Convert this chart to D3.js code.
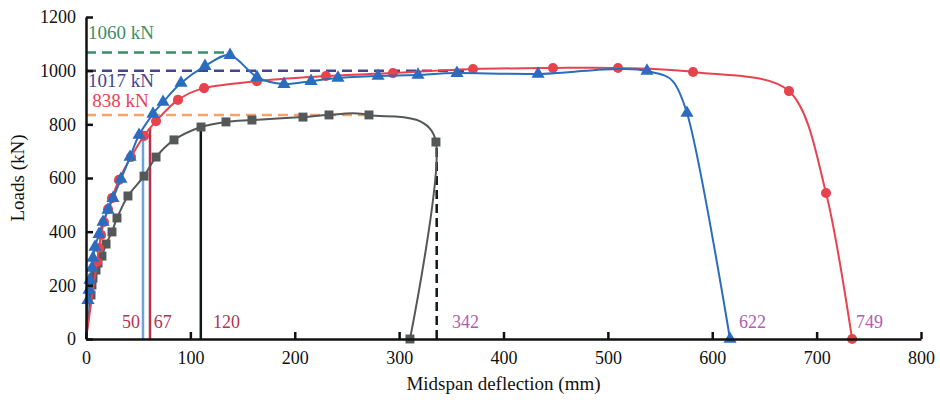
<!DOCTYPE html>
<html>
<head>
<meta charset="utf-8">
<script src="https://cdn.jsdelivr.net/npm/d3@7"></script>
<style>
  body { margin: 0; background: #fff; }
  text { font-family: "Liberation Serif", "DejaVu Serif", serif; }
</style>
</head>
<body>
<svg id="chart"></svg>
<script>
// ---------------- data ----------------
const grayPts = [[0,0],[4.8,164],[5.7,201],[6.7,227],[9.6,257],[11.5,283],[15.3,309],[19.2,354],
  [24.9,399],[29.7,451],[40.2,533],[55.6,607],[67.1,678],[84.3,742],[110.2,790],[134.1,809],
  [159,816],[207.9,827],[232.8,835],[271.1,835],[335.3,734],[310.4,0]];
const redPts = [[0,0],[10.5,287],[12.5,339],[14.4,388],[17.2,436],[21.1,484],[24.9,525],[31.6,593],
  [43.1,678],[55.6,757],[67.1,812],[88.1,891],[113.1,935],[163.8,961],[229.9,980],[294.1,991],
  [370.8,1006],[447.4,1010],[509.7,1010],[581.6,995],[673.5,924],[709,544],[734,0]];
const bluePts = [[0,0],[1.9,145],[2.9,183],[3.8,220],[5.7,265],[6.7,302],[8.6,343],[12.5,391],
  [16.3,436],[21.1,481],[25.9,525],[33.5,596],[42.2,678],[50.8,760],[64.2,839],[73.8,883],
  [91,954],[114,1017],[138,1058],[163.8,976],[189.7,950],[215.6,961],[241.4,973],[279.8,980],
  [318.1,984],[355.4,991],[433.1,988],[537.5,999],[575.8,842],[617,0]];

// horizontal dashed reference loads and where they stop
const refLoads = [1068, 1000, 835];
const refLoadEnds = [138, 365, 272];
// vertical reference deflections and their tops
const refDefl = [54.6, 61.3, 110, 336];
const refDeflTops = [760, 786, 790, 734];

const loadLabels = ["1060 kN", "1017 kN", "838 kN"];
const loadLabelPos = [[2, 1117], [2, 939], [6, 865]];
const deflLabels = ["50", "67", "120", "342", "622", "749"];
const deflLabelX = [34.5, 65, 121.7, 350.6, 625.6, 737.7];

const xTicks = [0, 100, 200, 300, 400, 500, 600, 700, 800];
const yTicks = [0, 200, 400, 600, 800, 1000, 1200];

// ---------------- layout ----------------
const W = 940, H = 400;
const margin = {top: 17, right: 19, bottom: 61, left: 86};
const width = W - margin.left - margin.right;
const height = H - margin.top - margin.bottom;

const svg = d3.select("#chart").attr("width", W).attr("height", H);
const g = svg.append("g").attr("transform", `translate(${margin.left},${margin.top})`);

const x = d3.scaleLinear().domain([0, 800]).range([0, width]);
const y = d3.scaleLinear().domain([0, 1200]).range([height, 0]);

// reference lines
const hColors = ["#3a8f6a", "#46448f", "#f4a46a"];
g.selectAll(".href").data(refLoads).enter().append("line")
  .attr("x1", 0).attr("x2", (d, i) => x(refLoadEnds[i]))
  .attr("y1", d => y(d)).attr("y2", d => y(d))
  .attr("stroke", (d, i) => hColors[i]).attr("stroke-width", 2.5)
  .attr("stroke-dasharray", "10,6");

const vColors = ["#6fa3d8", "#b3334f", "#0d1a12", "#0d1a12"];
g.selectAll(".vref").data(refDefl).enter().append("line")
  .attr("x1", d => x(d)).attr("x2", d => x(d))
  .attr("y1", y(0)).attr("y2", (d, i) => y(refDeflTops[i]))
  .attr("stroke", (d, i) => vColors[i]).attr("stroke-width", 2.5)
  .attr("stroke-dasharray", (d, i) => i === 3 ? "9,5" : null);

// curves
const line = d3.line().x(d => x(d[0])).y(d => y(d[1])).curve(d3.curveCardinal.tension(0.1));

const series = [
  {pts: grayPts, color: "#555858", shape: d3.symbolSquare, size: 80},
  {pts: redPts, color: "#e8424f", shape: d3.symbolCircle, size: 80},
  {pts: bluePts, color: "#2a6dbf", shape: d3.symbolTriangle, size: 75}
];

series.forEach(s => {
  g.append("path").attr("d", line(s.pts))
    .attr("fill", "none").attr("stroke", s.color).attr("stroke-width", 2);
  g.selectAll(null).data(s.pts.slice(1)).enter().append("path")
    .attr("d", d3.symbol().type(s.shape).size(s.size))
    .attr("transform", d => `translate(${x(d[0])},${y(d[1])})`)
    .attr("fill", s.color);
});

// axes
const xAxis = d3.axisBottom(x).tickValues(xTicks).tickFormat(d3.format("d"))
  .tickSizeInner(-7).tickSizeOuter(0).tickPadding(12);
const yAxis = d3.axisLeft(y).tickValues(yTicks).tickFormat(d3.format("d"))
  .tickSizeInner(-7).tickSizeOuter(0).tickPadding(10);

const gx = g.append("g").attr("transform", `translate(0,${height})`).call(xAxis);
const gy = g.append("g").call(yAxis);
[gx, gy].forEach(a => {
  a.select(".domain").attr("stroke", "#111").attr("stroke-width", 2.5);
  a.selectAll(".tick line").attr("stroke", "#111").attr("stroke-width", 2.5);
  a.selectAll(".tick text").attr("fill", "#111").style("font-size", "18px")
    .style("font-family", '"Liberation Serif", serif');
});

// labels
const loadLabelColors = ["#3a8f6a", "#46448f", "#e8424f"];
g.selectAll(".ll").data(loadLabels).enter().append("text")
  .attr("x", (d, i) => x(loadLabelPos[i][0])).attr("y", (d, i) => y(loadLabelPos[i][1]))
  .attr("fill", (d, i) => loadLabelColors[i]).style("font-size", "19px").text(d => d);

g.selectAll(".dl").data(deflLabels).enter().append("text")
  .attr("x", (d, i) => x(deflLabelX[i])).attr("y", y(40))
  .attr("fill", (d, i) => i < 3 ? "#b3334f" : "#b05db3").style("font-size", "18px").text(d => d);

svg.append("text").attr("x", margin.left + width / 2).attr("y", 390)
  .attr("text-anchor", "middle").attr("fill", "#111").style("font-size", "19px")
  .text("Midspan deflection (mm)");
svg.append("text").attr("transform", `translate(24,${margin.top + height / 2}) rotate(-90)`)
  .attr("text-anchor", "middle").attr("fill", "#111").style("font-size", "19px")
  .text("Loads (kN)");
</script>
</body>
</html>
